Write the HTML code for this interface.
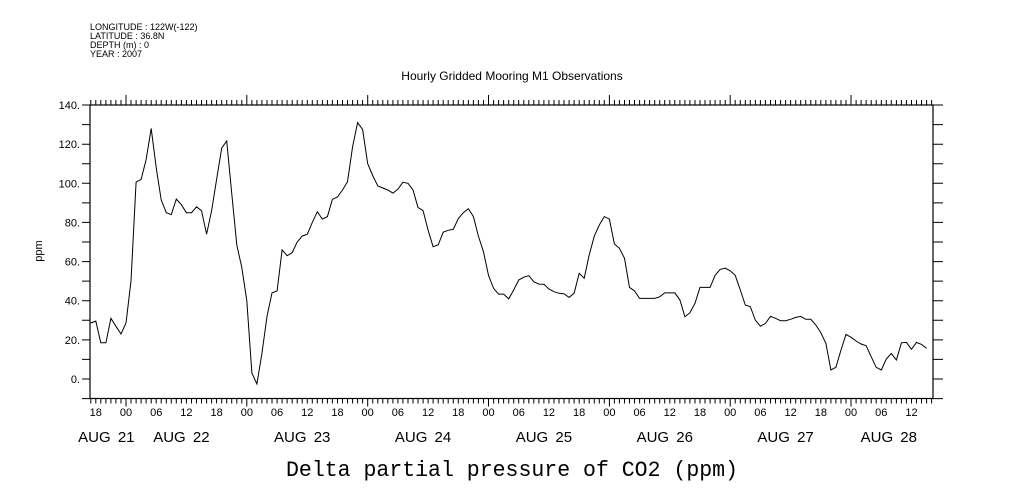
<!DOCTYPE html>
<html><head><meta charset="utf-8"><style>
html,body{margin:0;padding:0;background:#fff;}
svg{display:block;font-family:"Liberation Sans",sans-serif;}
</style></head><body>
<svg id="chart" width="1009" height="504" viewBox="0 0 1009 504" xmlns="http://www.w3.org/2000/svg">
<g font-size="9" fill="#000">
<text x="90" y="30">LONGITUDE : 122W(-122)</text>
<text x="90" y="39">LATITUDE : 36.8N</text>
<text x="90" y="48">DEPTH (m) : 0</text>
<text x="90" y="57">YEAR : 2007</text>
</g>
<text x="512" y="80" text-anchor="middle" font-size="12">Hourly Gridded Mooring M1 Observations</text>
<text transform="translate(42,251) rotate(-90)" text-anchor="middle" font-size="11">ppm</text>
<text x="512" y="476" text-anchor="middle" font-family="Liberation Mono, monospace" font-size="22" textLength="452" lengthAdjust="spacingAndGlyphs">Delta partial pressure of CO2 (ppm)</text>
<g id="axes"></g>
<g id="marks"></g>
</svg>
<script>
const hours = [];
for (let h = -7; h <= 159; h++) hours.push(h);
const values = [28.6,29.6,18.5,18.5,31,27,23,28.6,50,100.6,102,112,128,108,91.5,85,84,92,89,85,85,88,86,74,86,102,118,121.6,95,68.5,57,40,3,-2.5,13,32,44,45,66,63,64.6,70,73,74,80,85.5,81.7,83,91.8,93,96.6,100.8,118.7,131,127.5,110,104,98.6,97.6,96.6,95,97,100.5,100,96.6,87.7,86,76,67.6,68.5,75,76,76.5,82,85,87,83,73,65,53,46.3,43.4,43.4,41,45.5,50.6,52,52.8,49.7,48.5,48.4,46,44.6,43.8,43.5,41.7,43.8,54,51.5,63.4,73,78.7,83,81.7,69,66.8,61.7,46.8,45,41.2,41.2,41.2,41.2,42,44,44,44,40.4,31.8,33.9,38.7,46.8,46.8,46.8,53,56,56.6,55.3,53,45.5,37.8,37,30,27,28.4,32,31,29.8,29.8,30.5,31.5,32,30.5,30.5,27.6,23.7,18.2,4.6,6,14.8,22.8,21.3,19.4,17.9,17,11.4,6,4.6,10.2,13.1,9.7,18.5,18.7,15.2,18.7,17.7,15.7];
const yTicks = [0,20,40,60,80,100,120,140];
const yTickLabels = ["0.","20.","40.","60.","80.","100.","120.","140."];
const hourLabels = ["18","00","06","12"];
const dateLabels = ["AUG 21","AUG 22","AUG 23","AUG 24","AUG 25","AUG 26","AUG 27","AUG 28"];
const dateLabelHours = [-3.9,11,35,59,83,107,131,151.5];

const L=90,R=933,T=105,B=398.5;
const xs = h => 126 + h*5.035;
const ys = v => 379 - v*1.957;
const NS="http://www.w3.org/2000/svg";
const ax=document.getElementById('axes'), mk=document.getElementById('marks');
function mkEl(tag,attrs,parent){const e=document.createElementNS(NS,tag);for(const k in attrs)e.setAttribute(k,attrs[k]);parent.appendChild(e);return e;}

const frame=mkEl('rect',{x:L,y:T,width:R-L,height:B-T,fill:'none',stroke:'#000','stroke-width':1.2},ax);



let p='';
for(let h=-7;h<=160;h++){
  const x=xs(h).toFixed(1); const maj=((h%24)+24)%24===0;
  p+=`M${x},${T}V${T-(maj?10:5)}M${x},${B}V${B+(maj?8:5)}`;
}
for(let v=-10;v<=140;v+=10){const y=ys(v).toFixed(1);p+=`M${L},${y}H${L-8}M${R},${y}H${R+10}`;}
const tk=mkEl('path',{d:p,stroke:'#000','stroke-width':1,fill:'none'},ax);



yTicks.forEach((v,i)=>{
  const t=mkEl('text',{x:80,y:ys(v)+4,'text-anchor':'end','font-size':11},ax);
  t.textContent=yTickLabels[i];
  
  
});
for(let h=-6;h<=158;h+=6){
  const t=mkEl('text',{x:xs(h),y:416,'text-anchor':'middle','font-size':11},ax);
  t.textContent=hourLabels[(((h%24)+24)%24)/6===3?0:(((h%24)+24)%24)/6+1];
  
  
}
dateLabels.forEach((d,i)=>{
  const t=mkEl('text',{x:xs(dateLabelHours[i]),y:442,'text-anchor':'middle','font-size':15,'word-spacing':3},ax);
  t.textContent=d;
  
  
});

const pts=hours.map((h,i)=>xs(h).toFixed(1)+','+ys(values[i]).toFixed(1)).join(' ');
const line=mkEl('polyline',{points:pts,fill:'none',stroke:'#000','stroke-width':1},mk);


</script>
</body></html>
